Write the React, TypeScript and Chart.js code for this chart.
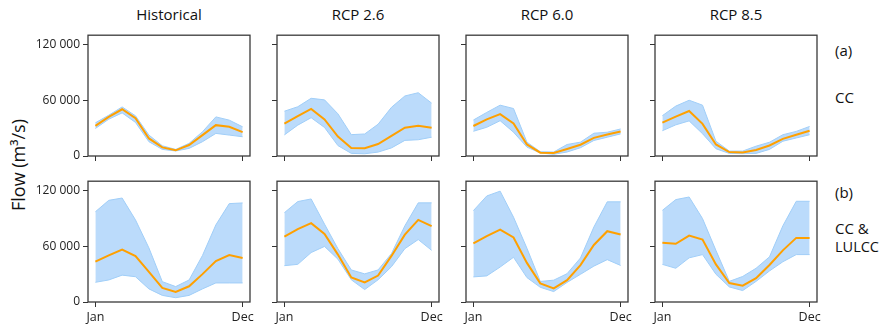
import React, { useEffect, useRef } from "react";
import { Chart, registerables } from "chart.js";

Chart.register(...registerables);

// ---------- Data ----------
const MONTHS = ["Jan", "Feb", "Mar", "Apr", "May", "Jun", "Jul", "Aug", "Sep", "Oct", "Nov", "Dec"];
const X_TICK_LABELS = ["Jan", "Dec"];
const Y_TICKS = [0, 60000, 120000];
const PANEL_TITLES = ["Historical", "RCP 2.6", "RCP 6.0", "RCP 8.5"];
const ROW_LABELS_A = ["(a)", "CC"];
const ROW_LABELS_B = ["(b)", "CC &", "LULCC"];
const Y_AXIS_TITLE = "Flow (m³/s)";

// (a) CC
const histCC_mean = [32500, 42100, 50300, 40700, 18900, 9300, 6100, 11800, 22500, 33200, 31400, 25700];
const histCC_upper = [35700, 43900, 52800, 43200, 22500, 11000, 7100, 13600, 26100, 42100, 38600, 31400];
const histCC_lower = [29600, 39600, 46400, 36100, 15400, 7100, 5400, 8200, 15400, 24300, 22500, 20700];

const rcp26CC_mean = [34900, 42900, 50600, 39400, 20900, 8700, 8400, 12900, 21600, 30400, 32500, 30400];
const rcp26CC_upper = [48200, 53000, 62100, 60400, 45400, 23000, 23700, 34200, 52400, 64600, 68100, 56900];
const rcp26CC_lower = [22700, 33200, 41200, 30700, 11200, 2800, 2400, 4200, 8700, 16800, 17500, 20200];

const rcp60CC_mean = [32300, 39400, 45100, 35100, 12400, 3600, 3200, 7500, 12100, 19500, 23100, 26300];
const rcp60CC_upper = [38700, 46900, 54700, 51100, 14900, 4600, 4300, 12400, 14900, 24500, 25600, 29100];
const rcp60CC_lower = [26600, 30900, 38000, 25600, 9600, 3200, 1800, 4300, 8900, 16700, 20200, 23800];

const rcp85CC_mean = [36000, 42400, 48400, 34600, 12400, 4200, 3900, 6400, 11300, 18400, 22900, 27200];
const rcp85CC_upper = [43400, 53700, 60000, 54700, 15900, 5300, 5300, 10600, 14800, 22900, 26500, 31800];
const rcp85CC_lower = [27200, 33500, 37800, 24000, 7800, 2800, 2500, 2800, 7100, 15900, 19400, 22900];

// (b) CC & LULCC
const histLU_mean = [43400, 50100, 56500, 49400, 32500, 15200, 10900, 16900, 30000, 44100, 50500, 47300];
const histLU_upper = [97100, 109400, 111900, 88300, 58200, 21900, 16600, 23700, 50100, 83000, 105900, 106600];
const histLU_lower = [21200, 23700, 28900, 27200, 14100, 7100, 4600, 7100, 14100, 20500, 20500, 20500];

const rcp26LU_mean = [70400, 78500, 84800, 73200, 51000, 26400, 21100, 28500, 49600, 72500, 88400, 81700];
const rcp26LU_upper = [96100, 108100, 110900, 83800, 57400, 34500, 30300, 34500, 52100, 82000, 106700, 106700];
const rcp26LU_lower = [39100, 40500, 53200, 59800, 46100, 23900, 13400, 23900, 38000, 57400, 67200, 55600];

const rcp60LU_mean = [63200, 70900, 77900, 69500, 42100, 20000, 14700, 23500, 39700, 61400, 76200, 72700];
const rcp60LU_upper = [98300, 114100, 119300, 91300, 57900, 22100, 23500, 30500, 47400, 80700, 107800, 107800];
const rcp60LU_lower = [27000, 28100, 37600, 48100, 26300, 15800, 11200, 21100, 29800, 38600, 45600, 39300];

const rcp85LU_mean = [63700, 62700, 71500, 67200, 40500, 20400, 17600, 25700, 39800, 55600, 69000, 69000];
const rcp85LU_upper = [98600, 110200, 113000, 89800, 55600, 22200, 27500, 36300, 48600, 82000, 108400, 108400];
const rcp85LU_lower = [40500, 36300, 47500, 51000, 29900, 16200, 12300, 22200, 33400, 43300, 51000, 51000];

const PANELS = [
  [histCC_mean, histCC_upper, histCC_lower],
  [rcp26CC_mean, rcp26CC_upper, rcp26CC_lower],
  [rcp60CC_mean, rcp60CC_upper, rcp60CC_lower],
  [rcp85CC_mean, rcp85CC_upper, rcp85CC_lower],
  [histLU_mean, histLU_upper, histLU_lower],
  [rcp26LU_mean, rcp26LU_upper, rcp26LU_lower],
  [rcp60LU_mean, rcp60LU_upper, rcp60LU_lower],
  [rcp85LU_mean, rcp85LU_upper, rcp85LU_lower],
];

// ---------- Layout ----------
const COL_LEFT = [88, 277, 466, 655];
const ROW_TOP = [33, 179];
const BOX_W = 162;
const BOX_H = 123;
const Y_AXIS_W = 60;
const X_AXIS_H = 28;
const PAD_TOP = 8;
const PAD_RIGHT = 20;
const FONT = "'Open Sans', 'DejaVu Sans', sans-serif";

const toPoints = (arr: number[]) => arr.map((v, i) => ({ x: i, y: v }));
const fmt = (v: number) => String(v).replace(/\B(?=(\d{3})+(?!\d))/g, " ");

const boxPlugin = {
  id: "boxPlugin",
  afterDraw(chart: any) {
    const { ctx, chartArea } = chart;
    ctx.save();
    ctx.strokeStyle = "#3a3a3a";
    ctx.lineWidth = 1.3;
    ctx.strokeRect(chartArea.left, chartArea.top, chartArea.right - chartArea.left, chartArea.bottom - chartArea.top);
    ctx.restore();
  },
};

function Panel({ idx }: { idx: number }) {
  const ref = useRef<HTMLCanvasElement | null>(null);
  const row = Math.floor(idx / 4);
  const col = idx % 4;
  useEffect(() => {
    const [mean, upper, lower] = PANELS[idx];
    const chart = new Chart(ref.current as HTMLCanvasElement, {
      type: "line",
      data: {
        datasets: [
          {
            data: toPoints(upper),
            borderColor: "rgb(160,206,248)",
            borderWidth: 1,
            backgroundColor: "rgb(187,219,251)",
            fill: "+1",
            pointRadius: 0,
            tension: 0,
            order: 2,
          },
          {
            data: toPoints(lower),
            borderColor: "rgb(160,206,248)",
            borderWidth: 1,
            backgroundColor: "rgb(187,219,251)",
            fill: false,
            pointRadius: 0,
            tension: 0,
            order: 1,
          },
          {
            data: toPoints(mean),
            borderColor: "#FFA000",
            borderWidth: 2,
            fill: false,
            pointRadius: 0,
            tension: 0,
            order: 0,
          },
        ],
      },
      options: {
        animation: false,
        responsive: false,
        devicePixelRatio: 1,
        events: [],
        layout: { padding: { top: PAD_TOP, right: PAD_RIGHT, left: 0, bottom: 0 } },
        plugins: { legend: { display: false }, tooltip: { enabled: false }, title: { display: false } },
        scales: {
          x: {
            type: "linear",
            min: -0.55,
            max: 11.55,
            afterBuildTicks: (scale: any) => {
              scale.ticks = X_TICK_LABELS.map((l) => ({ value: MONTHS.indexOf(l) }));
            },
            afterFit: (scale: any) => {
              scale.height = X_AXIS_H;
            },
            border: { display: false },
            grid: { display: true, drawOnChartArea: false, drawTicks: true, tickLength: 5, tickColor: "#333", lineWidth: 1 },
            ticks: {
              autoSkip: false,
              maxRotation: 0,
              padding: 3,
              color: "#222",
              font: { family: FONT, size: 12.5 },
              callback: (v: any) => (row === 1 ? MONTHS[Number(v)] : ""),
            },
          },
          y: {
            type: "linear",
            min: 0,
            max: 130000,
            afterBuildTicks: (scale: any) => {
              scale.ticks = Y_TICKS.map((v) => ({ value: v }));
            },
            afterFit: (scale: any) => {
              scale.width = Y_AXIS_W;
            },
            border: { display: false },
            grid: { display: true, drawOnChartArea: false, drawTicks: true, tickLength: 5, tickColor: "#333", lineWidth: 1 },
            ticks: {
              padding: 3,
              color: "#222",
              font: { family: FONT, size: 12 },
              callback: (v: any) => (col === 0 ? fmt(Number(v)) : ""),
            },
          },
        },
      },
      plugins: [boxPlugin],
    } as any);
    return () => chart.destroy();
  }, [idx]);
  const left = COL_LEFT[col] - Y_AXIS_W;
  const top = ROW_TOP[row] - PAD_TOP;
  const w = Y_AXIS_W + BOX_W + PAD_RIGHT;
  const h = PAD_TOP + BOX_H + X_AXIS_H;
  return (
    <canvas
      ref={ref}
      width={w}
      height={h}
      style={{ position: "absolute", left, top, width: w, height: h }}
    />
  );
}

export default function App() {
  const txt: React.CSSProperties = { position: "absolute", fontFamily: FONT, color: "#111", whiteSpace: "nowrap" };
  return (
    <div style={{ position: "absolute", left: 0, top: 0, width: 886, height: 333, background: "#fff", overflow: "hidden" }}>
      {PANEL_TITLES.map((t, i) => (
        <div
          key={t}
          style={{ ...txt, left: COL_LEFT[i] + BOX_W / 2 - 60, width: 120, textAlign: "center", top: 5, fontSize: 15, lineHeight: "18px" }}
        >
          {t}
        </div>
      ))}
      <div
        style={{
          ...txt,
          left: 18 - 60,
          width: 120,
          top: 165 - 12,
          height: 24,
          lineHeight: "24px",
          textAlign: "center",
          fontSize: 18,
          transform: "rotate(-90deg)",
        }}
      >
        {Y_AXIS_TITLE}
      </div>
      <div style={{ ...txt, left: 835, top: 41, fontSize: 15, lineHeight: "18px" }}>{ROW_LABELS_A[0]}</div>
      <div style={{ ...txt, left: 835, top: 88, fontSize: 15, lineHeight: "18px" }}>{ROW_LABELS_A[1]}</div>
      <div style={{ ...txt, left: 835, top: 183, fontSize: 15, lineHeight: "18px" }}>{ROW_LABELS_B[0]}</div>
      <div style={{ ...txt, left: 835, top: 219, fontSize: 15, lineHeight: "18px" }}>{ROW_LABELS_B[1]}</div>
      <div style={{ ...txt, left: 835, top: 238, fontSize: 14.5, lineHeight: "18px" }}>{ROW_LABELS_B[2]}</div>
      {[0, 1, 2, 3, 4, 5, 6, 7].map((i) => (
        <Panel key={i} idx={i} />
      ))}
    </div>
  );
}
